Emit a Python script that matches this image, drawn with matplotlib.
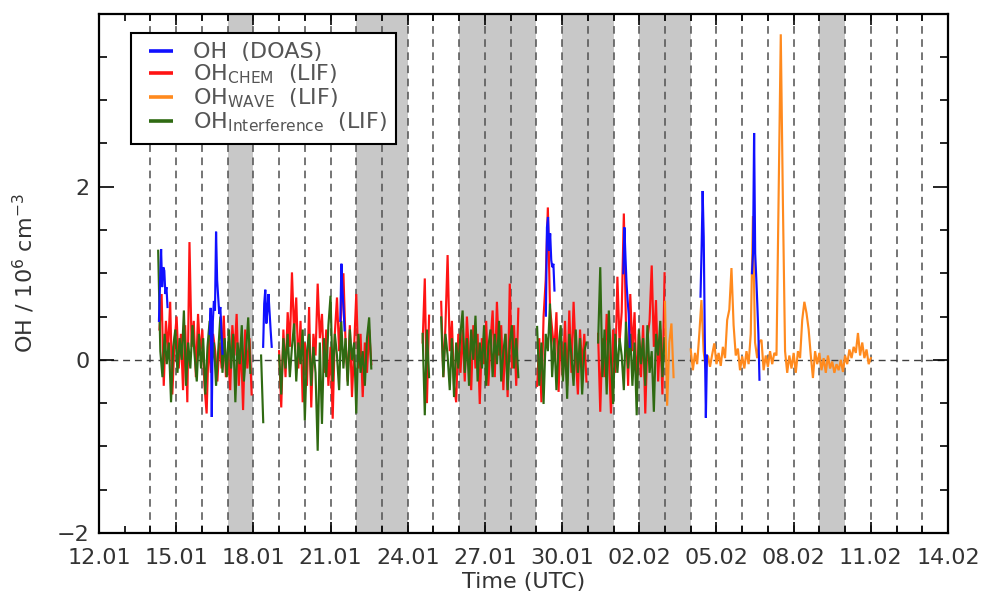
import numpy as np
import matplotlib
matplotlib.use("Agg")
import matplotlib.pyplot as plt
from matplotlib.lines import Line2D
from matplotlib.ticker import FixedLocator, MultipleLocator

plt.rcParams['font.family'] = ['DejaVu Sans']
plt.rcParams['mathtext.fontset'] = 'dejavusans'
plt.rcParams['mathtext.default'] = 'regular'

# ---------------- axis / calendar data (x = days since 12.01 00:00 UTC) ----------------
x_tick_days = [0, 3, 6, 9, 12, 15, 18, 21, 24, 27, 30, 33]
x_tick_labels = ['12.01', '15.01', '18.01', '21.01', '24.01', '27.01',
                 '30.01', '02.02', '05.02', '08.02', '11.02', '14.02']
day_lines = list(range(2, 33))
shaded_days = [(5, 6), (10, 12), (14, 17), (18, 20), (21, 23), (28, 29)]
y_ticks = [-2, 0, 2, 4]
y_tick_labels = ['\u22122', '0', '2', '']

STEP_2H = 1.0 / 12.0
STEP_1H = 1.0 / 24.0

# ---------------- OH_CHEM (LIF), 2-hourly segments ----------------
chem_starts = [2.35, 7.00, 12.58, 13.30, 17.03, 19.40]
chem_a = [0.35, 0.76, -0.30, 0.45, 0.10, 0.67, -0.40, 0.20, 0.50, -0.10, 0.30, -0.35,
          0.40, -0.49, 1.36, 0.15, 0.45, -0.20, 0.53, 0.05, 0.35, -0.30, -0.62, 0.25,
          -0.15, 0.30, 0.10, -0.25, 0.20, -0.10, 0.51, -0.20, 0.15, -0.35, 0.40, 0.05,
          0.53, -0.30, 0.20, -0.58, 0.35, -0.10, 0.25, -0.40]
chem_b = [0.10, -0.55, 0.35, -0.20, 0.55, 0.15, 1.01, 0.30, 0.72, -0.10, 0.45, -0.49,
          0.20, -0.30, 0.61, -0.55, 0.30, 0.05, 0.88, 0.25, 0.53, -0.15, 0.35, -0.30,
          0.15, -0.68, 0.30, 0.72, 0.10, 0.55, 1.00, 0.20, -0.25, 0.40, -0.43, 0.15,
          0.76, -0.10, 0.30, -0.43, 0.20, -0.15, 0.35, -0.05]
chem_c = [0.20, 0.94, -0.50, 0.51]
chem_d = [0.67, -0.20, 0.40, 1.21, 0.10, 0.45, -0.30, -0.49, 0.30, -0.15, 0.35, -0.25,
          0.50, 0.05, -0.35, 0.40, -0.10, 0.30, -0.51, 0.25, -0.05, 0.45, -0.30, 0.20,
          0.57, -0.20, 0.67, 0.05, 0.40, -0.35, 0.30, -0.43, 0.88, -0.10, 0.40, -0.30, 0.59]
chem_e = [-0.30, 0.25, -0.49, 0.50, 0.92, 1.76, 0.60, 0.35, 0.10, 0.55, -0.37, 0.30,
          -0.20, 0.45, -0.30, 0.57, -0.15, 0.67, 0.05, -0.40, 0.35, -0.10, 0.30, -0.25]
chem_f = [0.30, -0.60, 0.25, -0.20, 0.53, 0.05, -0.62, 0.35, -0.15, 0.96, 0.20, 0.55,
          1.69, 0.40, -0.30, 0.76, 0.10, 0.55, -0.35, 0.30, -0.20, 0.40, -0.62, 0.25,
          0.45, 1.09, 0.15, 0.69, -0.25, 0.35, -0.40, 1.00]

# ---------------- OH_Interference (LIF), 2-hourly segments ----------------
intf_starts = [2.30, 6.30, 7.00, 12.58, 13.30, 17.03, 19.40]
intf_a = [1.26, 0.10, -0.20, 0.30, -0.05, 0.20, -0.49, 0.15, 0.35, -0.15, 0.25, 0.00,
          0.57, -0.30, 0.20, -0.10, 0.40, 0.05, -0.25, 0.30, -0.10, 0.25, -0.40, 0.15,
          0.45, -0.05, 0.20, -0.30, 0.10, 0.50, -0.15, 0.25, -0.20, 0.35, -0.10, 0.30,
          -0.49, 0.20, -0.05, 0.40, -0.25, 0.10, 0.49, -0.15]
intf_s = [0.05, -0.72]
intf_b = [0.05, -0.40, 0.25, -0.10, 0.30, -0.20, 0.15, 0.42, -0.25, 0.20, -0.05, 0.35,
          -0.70, 0.10, 0.30, -0.30, 0.15, -0.15, -1.05, 0.20, -0.74, 0.25, -0.20, 0.40,
          0.74, -0.25, 0.30, 0.05, -0.35, 0.45, -0.10, 0.25, -0.30, 0.35, 0.00, 0.20,
          -0.62, 0.30, -0.15, 0.10, -0.30, 0.25, 0.49, -0.10]
intf_c = [0.30, -0.64, 0.35, -0.20]
intf_d = [0.49, -0.20, 0.30, 0.05, -0.35, 0.25, -0.43, 0.20, -0.10, 0.30, 0.57, -0.15,
          0.25, -0.30, 0.35, 0.00, 0.51, -0.25, 0.20, -0.10, 0.40, -0.30, 0.15, 0.35,
          -0.20, 0.30, -0.05, 0.45, -0.25, 0.10, 0.30, -0.35, 0.20, 0.40, -0.10, 0.25, -0.20]
intf_e = [0.38, -0.30, 0.20, -0.51, 0.30, 0.10, 0.65, -0.20, 0.25, -0.35, 0.15, 0.40,
          -0.25, 0.20, -0.45, 0.30, 0.05, -0.30, 0.35, -0.15, 0.25, -0.40, 0.10, 0.20]
intf_f = [0.20, 1.07, -0.20, 0.35, -0.40, 0.57, 0.00, -0.51, 0.30, -0.15, 0.25, 0.05,
          -0.35, 0.44, -0.10, 0.30, -0.30, 0.20, -0.64, 0.35, -0.05, 0.25, -0.30, 0.40,
          -0.15, 0.10, -0.60, 0.30, 0.05, 0.45, -0.20, 0.25]

# ---------------- OH_WAVE (LIF), 2-hourly segments ----------------
wave_starts = [22.00, 23.00]
wave_a = [0.67, -0.53, 0.20, 0.42, -0.20]
wave_b = [0.12, -0.12, 0.08, -0.05, 0.30, 0.69, 0.10, -0.10, 0.05, -0.08, 0.06, 0.19,
          -0.05, 0.08, -0.07, 0.15, 0.02, 0.46, 0.58, 1.06, 0.40, 0.05, 0.13, -0.12,
          0.04, -0.10, 0.10, -0.05, 0.30, 1.66, 0.20, 0.02, 0.21, 0.23, -0.12, 0.05,
          -0.08, 0.10, -0.05, 0.08, 0.05, 1.90, 3.76, 1.80, 0.10, -0.15, 0.05, -0.10,
          0.08, -0.15, 0.10, 0.02, 0.46, 0.67, 0.54, 0.35, 0.05, -0.21, 0.10, -0.05,
          0.08, -0.12, 0.02, -0.15, 0.05, -0.10, -0.02, -0.15, -0.05, -0.12, 0.00, -0.14,
          0.05, -0.05, 0.12, 0.02, 0.15, 0.08, 0.31, 0.05, 0.20, 0.02, 0.12, -0.05, 0.02]

# ---------------- OH (DOAS), hourly segments ----------------
doas_starts = [2.33, 4.30, 6.38, 9.38, 17.37, 20.38, 23.38, 25.38]
doas_1 = [0.45, 0.88, 1.28, 0.84, 1.07, 1.03, 0.76, 0.84, 0.61]
doas_2 = [0.30, 0.60, -0.66, 0.45, 0.68, 0.57, 1.48, 0.92, 0.72, 0.53, 0.61, 0.34, 0.07]
doas_3 = [0.15, 0.65, 0.81, 0.42, 0.57, 0.76, 0.55, 0.34, 0.15]
doas_4 = [0.45, 1.11, 0.80, 0.60, 0.34]
doas_5 = [0.51, 1.53, 1.65, 1.26, 1.46, 1.15, 1.07, 1.11, 0.80]
doas_6 = [1.00, 1.53, 1.19, 0.88, 0.69, 0.53, 0.15]
doas_7 = [0.73, 1.27, 1.95, 1.42, 0.27, -0.67, 0.05]
doas_8 = [1.00, 1.23, 2.62, 1.23, 0.95, 0.64, 0.30, -0.23]

series = [
    ('chem', '#ff1414', STEP_2H, chem_starts, [chem_a, chem_b, chem_c, chem_d, chem_e, chem_f]),
    ('intf', '#2f6a12', STEP_2H, intf_starts, [intf_a, intf_s, intf_b, intf_c, intf_d, intf_e, intf_f]),
    ('wave', '#ff8a1e', STEP_2H, wave_starts, [wave_a, wave_b]),
    ('doas', '#1010ff', STEP_1H, doas_starts, [doas_1, doas_2, doas_3, doas_4, doas_5, doas_6, doas_7, doas_8]),
]

legend_labels = ['OH  (DOAS)',
                 r'OH$_{\mathrm{CHEM}}$  (LIF)',
                 r'OH$_{\mathrm{WAVE}}$  (LIF)',
                 r'OH$_{\mathrm{Interference}}$  (LIF)']
legend_colors = ['#1010ff', '#ff1414', '#ff8a1e', '#2f6a12']

# ---------------- figure ----------------
W, H = 984, 605
fig = plt.figure(figsize=(W / 100, H / 100), dpi=100)
ax = fig.add_axes([99 / W, 1 - 533 / H, (948 - 99) / W, (533 - 13.5) / H])

text_col = '#333333'

for a, b in shaded_days:
    ax.axvspan(a, b, color='#c8c8c8', lw=0, zorder=0)
for d in day_lines:
    ax.axvline(d, color='#505050', lw=1.1, dashes=(5, 3.6), zorder=1)
ax.axhline(0, color='#404040', lw=1.0, dashes=(5, 3.5), zorder=1)

for zi, (name, col, step, starts, segs) in enumerate(series):
    for st, vals in zip(starts, segs):
        x = st + step * np.arange(len(vals))
        ax.plot(x, vals, color=col, lw=1.55, zorder=2 + zi, solid_joinstyle='miter')

ax.set_xlim(0, 33)
ax.set_ylim(-2, 4)
ax.xaxis.set_major_locator(FixedLocator(x_tick_days))
ax.set_xticklabels(x_tick_labels)
ax.xaxis.set_minor_locator(MultipleLocator(1))
ax.yaxis.set_major_locator(FixedLocator(y_ticks))
ax.set_yticklabels(y_tick_labels)
ax.yaxis.set_minor_locator(MultipleLocator(0.5))

ax.tick_params(which='both', direction='in', top=True, right=True, colors='black',
               labelcolor=text_col, labelsize=16, width=1.2)
ax.tick_params(axis='x', which='major', length=8, pad=11)
ax.tick_params(axis='x', which='minor', length=5)
ax.tick_params(axis='y', which='major', length=11, pad=7)
ax.tick_params(axis='y', which='minor', length=6)
for sp in ax.spines.values():
    sp.set_linewidth(1.6)
    sp.set_zorder(10)

ax.set_xlabel('Time (UTC)', fontsize=16, color=text_col, labelpad=3)
ax.set_ylabel(r'OH / 10$^{6}$ cm$^{-3}$', fontsize=16, color=text_col, labelpad=14)

handles = [Line2D([], [], ls='none', marker='_', markersize=17, markeredgewidth=2.6, color=c)
           for c in legend_colors]
leg = ax.legend(handles, legend_labels, loc='upper left', numpoints=1,
                bbox_to_anchor=((131 - 99) / (948 - 99), (533 - 33) / (533 - 13.5)),
                borderaxespad=0, fontsize=16, frameon=True, fancybox=False,
                framealpha=1, edgecolor='black', handlelength=1.9, handletextpad=0.45,
                labelspacing=0.02, borderpad=0.42, labelcolor='#555555')
leg.get_frame().set_linewidth(1.5)
leg.set_zorder(20)

fig.savefig('out.png', dpi=100)
